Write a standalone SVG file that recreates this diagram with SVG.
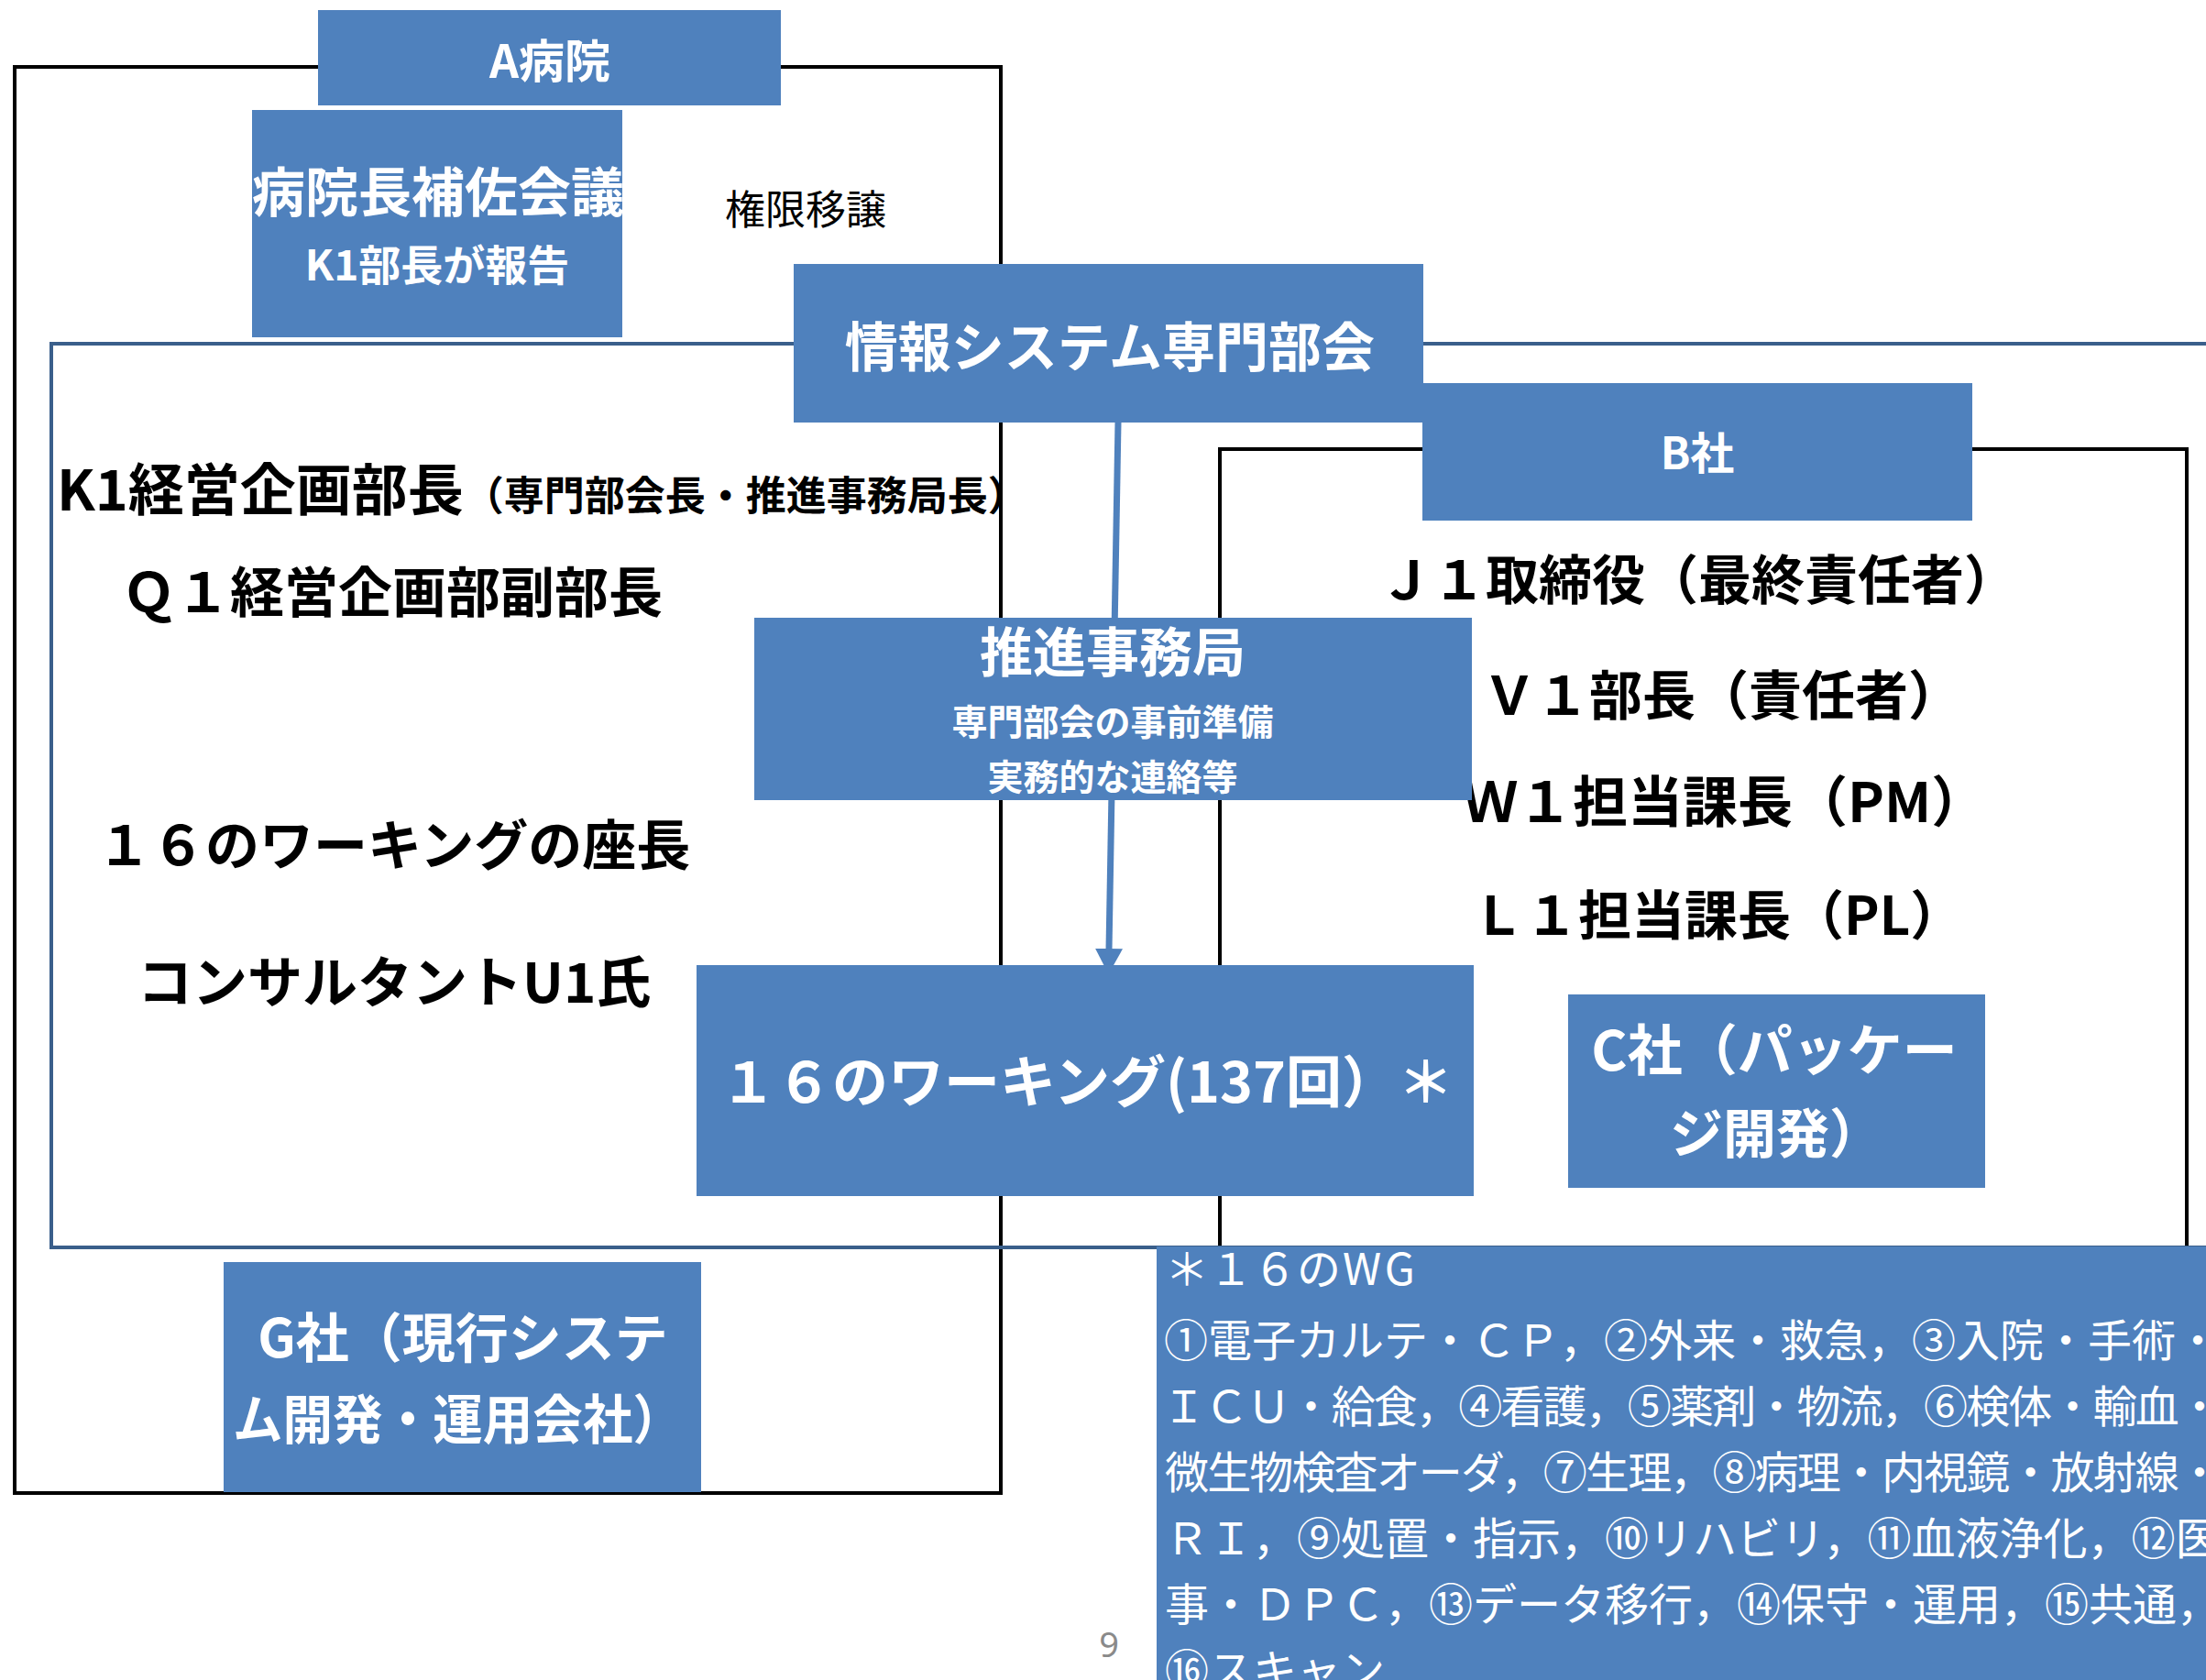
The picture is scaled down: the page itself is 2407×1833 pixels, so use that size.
<svg xmlns="http://www.w3.org/2000/svg" width="2407" height="1833" viewBox="0 0 2407 1833">
<style>
.box{fill:#4f81bd}
.frame{fill:none;stroke:#000;stroke-width:4}
.bframe{fill:none;stroke:#3a5f8b;stroke-width:4}
.w{fill:#fff;font-family:"Noto Sans CJK JP","Noto Sans",sans-serif;font-weight:700}
.k{fill:#000;font-family:"Noto Sans CJK JP","Noto Sans",sans-serif;font-weight:700}
.wl{fill:#fff;font-family:"Noto Sans CJK JP","Noto Sans",sans-serif;font-weight:400;font-size:48px}
.m{text-anchor:middle}
</style>
<defs>
<marker id="arrow" markerUnits="userSpaceOnUse" viewBox="0 0 28 30" markerWidth="28" markerHeight="30" refX="1" refY="15" orient="auto">
<path d="M0,0 L28,15 L0,30 Z" fill="#4f81bd"/>
</marker>
</defs>
<rect width="2407" height="1833" fill="#fff"/>
<g id="containers">
<rect id="frame-a" class="frame" x="16" y="73" width="1076" height="1556"/>
<rect id="frame-b" class="frame" x="1331" y="490" width="1055" height="890"/>
<rect id="frame-committee" class="bframe" x="56" y="375" width="2420" height="986"/>
</g>
<g id="connectors">
<line x1="1220" y1="461" x2="1210" y2="1036" stroke="#4f81bd" stroke-width="7" marker-end="url(#arrow)"/>
</g>
<g id="node-a-hospital">
<rect class="box" x="347" y="11" width="505" height="104"/>
<text class="w m" x="600" y="85" font-size="50">A病院</text>
</g>
<g id="node-assist-meeting">
<rect class="box" x="275" y="120" width="404" height="248"/>
<text class="w m" x="478" y="231" font-size="58">病院長補佐会議</text>
<text class="w m" x="477" y="306" font-size="46">K1部長が報告</text>
</g>
<g id="label-delegation">
<text x="791" y="245" font-size="44" fill="#000" font-family="'Noto Sans CJK JP','Noto Sans',sans-serif">権限移譲</text>
</g>
<g id="node-committee">
<rect class="box" x="866" y="288" width="687" height="173"/>
<text class="w m" x="1211" y="400" font-size="58">情報システム専門部会</text>
</g>
<g id="node-b">
<rect class="box" x="1552" y="418" width="600" height="150"/>
<text class="w m" x="1852" y="512" font-size="48">B社</text>
</g>
<g id="a-members">
<text class="k" x="62" y="557" font-size="61">K1経営企画部長<tspan font-size="44">（専門部会長・推進事務局長）</tspan></text>
<text class="k" x="133" y="668" font-size="59">Ｑ１経営企画部副部長</text>
<text class="k" x="106" y="944" font-size="59">１６のワーキングの座長</text>
<text class="k" x="150" y="1094" font-size="60">コンサルタントU1氏</text>
</g>
<g id="b-members">
<text class="k" x="1505" y="654" font-size="58">Ｊ１取締役（最終責任者）</text>
<text class="k" x="1618" y="780" font-size="58">Ｖ１部長（責任者）</text>
<text class="k" x="1596" y="897" font-size="60">Ｗ１担当課長（PM）</text>
<text class="k" x="1606" y="1020" font-size="58">Ｌ１担当課長（PL）</text>
</g>
<g id="node-secretariat">
<rect class="box" x="823" y="674" width="783" height="199"/>
<text class="w m" x="1214" y="733" font-size="58">推進事務局</text>
<text class="w m" x="1214" y="802" font-size="39">専門部会の事前準備</text>
<text class="w m" x="1214" y="862" font-size="39">実務的な連絡等</text>
</g>
<g id="node-working">
<rect class="box" x="760" y="1053" width="848" height="252"/>
<text class="w m" x="1186" y="1203" font-size="61">１６のワーキング(137回）＊</text>
</g>
<g id="node-c">
<rect class="box" x="1711" y="1085" width="455" height="211"/>
<text class="w m" x="1936" y="1168" font-size="60">C社（パッケー</text>
<text class="w m" x="1938" y="1258" font-size="58">ジ開発）</text>
</g>
<g id="node-g">
<rect class="box" x="244" y="1377" width="521" height="251"/>
<text class="w m" x="505" y="1481" font-size="58">G社（現行システ</text>
<text class="w" x="254" y="1570" font-size="58" textLength="491" lengthAdjust="spacingAndGlyphs">ム開発・運用会社）</text>
</g>
<g id="node-wg-list">
<rect class="box" x="1262" y="1360" width="1160" height="480"/>
<text class="wl" x="1271" y="1402" font-size="54">＊１６の<tspan dx="2" letter-spacing="4">WG</tspan></text>
<text class="wl" x="1270" y="1480" textLength="1152" lengthAdjust="spacing">①電子カルテ・ＣＰ，②外来・救急，③入院・手術・</text>
<text class="wl" x="1268" y="1552" textLength="1156" lengthAdjust="spacing">ＩＣＵ・給食，④看護，⑤薬剤・物流，⑥検体・輸血・</text>
<text class="wl" x="1271" y="1624" textLength="1153" lengthAdjust="spacing">微生物検査オーダ，⑦生理，⑧病理・内視鏡・放射線・</text>
<text class="wl" x="1271" y="1696">ＲＩ，⑨処置・指示，⑩リハビリ，⑪血液浄化，⑫医</text>
<text class="wl" x="1271" y="1768">事・ＤＰＣ，⑬データ移行，⑭保守・運用，⑮共通，</text>
<text class="wl" x="1271" y="1840">⑯スキャン</text>
</g>
<g id="page-number">
<text x="1210" y="1808" font-size="38" fill="#8a8a8a" text-anchor="middle" font-family="'Noto Sans',sans-serif">9</text>
</g>
</svg>
